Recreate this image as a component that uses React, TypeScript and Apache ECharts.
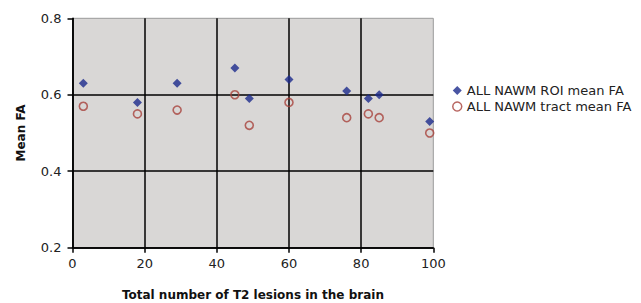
import React, { useEffect, useRef } from "react";
import * as echarts from "echarts";

const lesions = [3, 18, 29, 45, 49, 60, 76, 82, 85, 99];
const roiMeanFA = [0.63, 0.58, 0.63, 0.67, 0.59, 0.64, 0.61, 0.59, 0.6, 0.53];
const tractMeanFA = [0.57, 0.55, 0.56, 0.6, 0.52, 0.58, 0.54, 0.55, 0.54, 0.5];
const seriesNames = ["ALL NAWM ROI mean FA", "ALL NAWM tract mean FA"];

export default function App() {
  const ref = useRef<HTMLDivElement>(null);
  useEffect(() => {
    if (!ref.current) return;
    const chart = echarts.init(ref.current, null, { renderer: "svg" });
    const font = "DejaVu Sans";
    const red = "#a8423c";
    const blue = "#1c2a8c";
    chart.setOption({
      animation: false,
      backgroundColor: "#ffffff",
      textStyle: { fontFamily: font },
      grid: {
        left: 72.5,
        right: 207.7,
        top: 18.3,
        bottom: 55.3,
        outerBoundsMode: "none",
        containLabel: false,
        show: true,
        backgroundColor: "#d9d7d6",
        borderColor: "#9a9a9a",
        borderWidth: 1,
      },
      legend: {
        orient: "vertical",
        left: 447,
        top: 79,
        itemWidth: 9,
        itemHeight: 9,
        itemGap: 3,
        textStyle: { fontFamily: font, fontSize: 13, color: "#222" },
        data: [
          { name: seriesNames[0], icon: "diamond", itemStyle: { color: blue } },
          {
            name: seriesNames[1],
            icon: "circle",
            itemStyle: { color: "#ffffff", borderColor: red, borderWidth: 1.5 },
          },
        ],
      },
      xAxis: {
        type: "value",
        min: 0,
        max: 100,
        interval: 20,
        name: "Total number of T2 lesions in the brain",
        nameLocation: "middle",
        nameGap: 41,
        nameTextStyle: { fontFamily: font, fontSize: 12, fontWeight: "bold", color: "#111" },
        axisLine: { show: true, lineStyle: { color: "#000", width: 1.5 } },
        axisTick: { show: true, length: 5, lineStyle: { color: "#000", width: 1.5 } },
        axisLabel: { fontFamily: font, fontSize: 13, color: "#222", margin: 9 },
        splitLine: { show: true, showMaxLine: false, lineStyle: { color: "#000", width: 1.5 } },
      },
      yAxis: {
        type: "value",
        min: 0.2,
        max: 0.8,
        interval: 0.2,
        name: "Mean FA",
        nameLocation: "middle",
        nameGap: 46,
        nameRotate: 90,
        nameTextStyle: { fontFamily: font, fontSize: 12, fontWeight: "bold", color: "#111" },
        axisLine: { show: true, lineStyle: { color: "#000", width: 1.5 } },
        axisTick: { show: true, length: 5, lineStyle: { color: "#000", width: 1.5 } },
        axisLabel: { fontFamily: font, fontSize: 13, color: "#222", margin: 11, formatter: (v: number) => v.toFixed(1) },
        splitLine: { show: true, showMaxLine: false, lineStyle: { color: "#000", width: 1.5 } },
      },
      series: [
        {
          name: seriesNames[0],
          type: "scatter",
          symbol: "diamond",
          symbolSize: 9,
          itemStyle: { color: blue },
          data: lesions.map((x, i) => [x, roiMeanFA[i]]),
        },
        {
          name: seriesNames[1],
          type: "scatter",
          symbol: "circle",
          symbolSize: 8,
          itemStyle: { color: "rgba(0,0,0,0)", borderColor: red, borderWidth: 1.6 },
          data: lesions.map((x, i) => [x, tractMeanFA[i]]),
        },
      ],
    });
    return () => chart.dispose();
  }, []);
  return (
    <div
      ref={ref}
      style={{ position: "fixed", left: 0, top: 0, width: 641, height: 303 }}
    />
  );
}
